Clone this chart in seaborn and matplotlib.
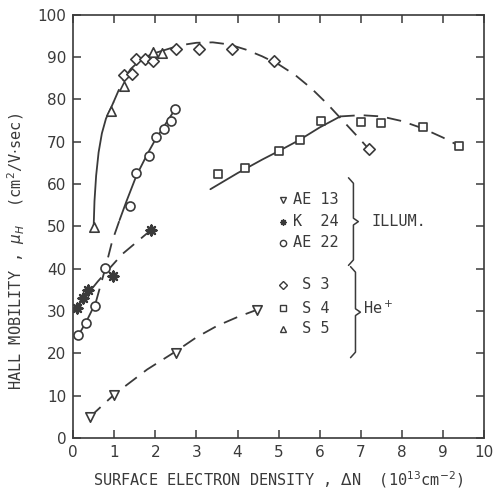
import matplotlib
matplotlib.use("Agg")
import matplotlib.pyplot as plt
import seaborn as sns

# measured points
ae13_x = [0.41, 1.0, 2.51, 4.47]
ae13_y = [5.0, 10.2, 20.0, 30.3]
k24_x = [0.10, 0.25, 0.36, 0.97, 1.90]
k24_y = [30.8, 33.0, 35.0, 38.4, 49.2]
ae22_x = [0.13, 0.32, 0.53, 0.78, 1.38, 1.54, 1.84, 2.01, 2.20, 2.39, 2.47]
ae22_y = [24.3, 27.1, 31.3, 40.1, 54.9, 62.6, 66.7, 71.2, 73.0, 75.0, 77.7]
s3_x = [1.25, 1.44, 1.54, 1.75, 1.94, 2.50, 3.07, 3.86, 4.89, 7.20]
s3_y = [85.7, 86.1, 89.5, 89.6, 89.1, 92.0, 92.0, 91.9, 89.1, 68.2]
s4_x = [3.52, 4.19, 5.00, 5.51, 6.03, 7.00, 7.50, 8.52, 9.39]
s4_y = [62.5, 63.7, 67.8, 70.4, 75.0, 74.6, 74.4, 73.5, 68.9]
s5_x = [0.51, 0.92, 1.24, 1.94, 2.16]
s5_y = [49.8, 77.3, 83.3, 91.3, 91.1]

# drawn curves, split into solid / dashed pieces
s5s3_curve_a_x = [0.50, 0.52, 0.56, 0.62, 0.70, 0.80, 0.92, 0.98]
s5s3_curve_a_y = [50.0, 56.0, 62.0, 67.5, 72.0, 75.5, 78.0, 79.3]
s5s3_curve_b_x = [0.98, 1.10, 1.25]
s5s3_curve_b_y = [79.3, 82.0, 85.0]
s5s3_curve_c_x = [1.25, 1.40, 1.60, 1.80, 2.00, 2.20]
s5s3_curve_c_y = [85.0, 87.2, 89.0, 90.2, 91.0, 91.6]
s5s3_curve_d_x = [2.20, 2.60, 3.00, 3.40, 3.80, 4.20, 4.60, 5.00, 5.40, 5.80, 6.20, 6.60, 7.00, 7.20]
s5s3_curve_d_y = [91.6, 92.8, 93.4, 93.5, 93.0, 91.8, 90.2, 88.3, 85.8, 82.6, 78.8, 74.6, 70.4, 68.2]

ae22_curve_a_x = [0.13, 0.32, 0.55]
ae22_curve_a_y = [24.3, 27.5, 32.0]
ae22_curve_b_x = [0.55, 0.78, 0.95, 1.13]
ae22_curve_b_y = [32.0, 40.0, 46.5, 51.5]
ae22_curve_c_x = [1.13, 1.30, 1.54, 1.80, 2.00, 2.20, 2.47]
ae22_curve_c_y = [51.5, 56.0, 62.0, 67.0, 70.5, 73.5, 77.5]

k24_curve_x = [0.10, 0.60, 1.20, 1.90]
k24_curve_y = [31.0, 37.0, 43.5, 49.2]

ae13_curve_x = [0.41, 1.00, 1.80, 2.50, 3.00, 3.50, 4.00, 4.47]
ae13_curve_y = [5.0, 10.3, 16.2, 20.5, 23.8, 26.5, 28.6, 30.3]

s4_curve_a_x = [3.34, 4.00, 4.60, 5.00, 5.50, 6.00, 6.50]
s4_curve_a_y = [58.8, 62.6, 65.8, 67.8, 70.4, 73.4, 76.0]
s4_curve_b_x = [6.50, 7.00, 7.50, 8.00, 8.50, 9.00, 9.40]
s4_curve_b_y = [76.0, 76.3, 76.0, 74.9, 73.2, 71.0, 69.0]

x_ticks = list(range(0, 11))
y_ticks = list(range(0, 101, 10))

sns.set_style("ticks")
plt.rcParams["font.family"] = ["DejaVu Sans"]
mono = "DejaVu Sans Mono"
ink = "#3a3a3a"

fig = plt.figure(figsize=(4.94, 4.95), dpi=100)
ax = fig.add_axes([0.148, 0.115, 0.832, 0.855])


def curve(xs, ys, dashed):
    sns.lineplot(x=xs, y=ys, ax=ax, sort=False, estimator=None, color=ink, lw=1.3)
    if dashed:
        ax.lines[-1].set_linestyle((0, (8, 5)))


curve(s5s3_curve_a_x, s5s3_curve_a_y, False)
curve(s5s3_curve_b_x, s5s3_curve_b_y, True)
curve(s5s3_curve_c_x, s5s3_curve_c_y, False)
curve(s5s3_curve_d_x, s5s3_curve_d_y, True)
curve(ae22_curve_a_x, ae22_curve_a_y, False)
curve(ae22_curve_b_x, ae22_curve_b_y, True)
curve(ae22_curve_c_x, ae22_curve_c_y, False)
curve(k24_curve_x, k24_curve_y, True)
curve(ae13_curve_x, ae13_curve_y, True)
curve(s4_curve_a_x, s4_curve_a_y, False)
curve(s4_curve_b_x, s4_curve_b_y, True)

open_kw = dict(facecolors="white", edgecolors=ink, linewidths=1.2, ax=ax, zorder=3)
sns.scatterplot(x=ae13_x, y=ae13_y, marker="v", s=46, **open_kw)
sns.scatterplot(x=ae22_x, y=ae22_y, marker="o", s=42, **open_kw)
sns.scatterplot(x=s3_x, y=s3_y, marker="D", s=34, **open_kw)
sns.scatterplot(x=s4_x, y=s4_y, marker="s", s=36, **open_kw)
sns.scatterplot(x=s5_x, y=s5_y, marker="^", s=46, **open_kw)
sns.scatterplot(x=k24_x, y=k24_y, marker=(8, 2, 0), s=50, color=ink,
                linewidth=1.7, edgecolor=ink, ax=ax, zorder=3)

ax.set_xlim(0, 10)
ax.set_ylim(0, 100)
ax.set_xticks(x_ticks)
ax.set_yticks(y_ticks)
ax.tick_params(direction="in", length=6, width=1.1, color=ink, labelsize=11,
               labelcolor=ink, top=True, right=True, pad=5)
for sp in ax.spines.values():
    sp.set_color(ink)
    sp.set_linewidth(1.2)

ax.set_xlabel(r"SURFACE ELECTRON DENSITY , $\Delta$N  (10$^{13}$cm$^{-2}$)",
              fontfamily=mono, fontsize=11, color=ink, labelpad=7)
ax.set_ylabel(r"HALL MOBILITY , $\mu_H$  (cm$^2$/V$\cdot$sec)",
              fontfamily=mono, fontsize=11, color=ink)
ax.yaxis.set_label_coords(-0.112, 0.44)

# legend block
t = ax.transAxes
leg_rows = [("v", "AE 13", 0.563), ((8, 2, 0), "K  24", 0.511), ("o", "AE 22", 0.461),
            ("D", " S 3", 0.362), ("s", " S 4", 0.307), ("^", " S 5", 0.258)]
for m, lab, yy in leg_rows:
    filled = m == (8, 2, 0)
    ax.plot([0.51], [yy], marker=m, ms=4.5, transform=t, color=ink,
            mfc=ink if filled else "white", mew=1.0, ls="none", clip_on=False)
    ax.text(0.535, yy, lab, transform=t, fontfamily=mono, fontsize=11,
            color=ink, va="center", ha="left")


def brace(x, y0, y1):
    ym = (y0 + y1) / 2
    h = 0.012
    xs = [x - h, x, x, x + h, x, x, x - h]
    ys = [y1 + 0.005, y1 - 0.008, ym + 0.008, ym, ym - 0.008, y0 + 0.008, y0 - 0.005]
    ax.plot(xs, ys, transform=t, color=ink, lw=1.1)


brace(0.682, 0.413, 0.610)
brace(0.687, 0.195, 0.400)
ax.text(0.725, 0.511, "ILLUM.", transform=t, fontfamily=mono, fontsize=11,
        color=ink, va="center")
ax.text(0.705, 0.307, r"He$^+$", transform=t, fontfamily=mono, fontsize=11,
        color=ink, va="center")

fig.savefig("out.png", dpi=100)
